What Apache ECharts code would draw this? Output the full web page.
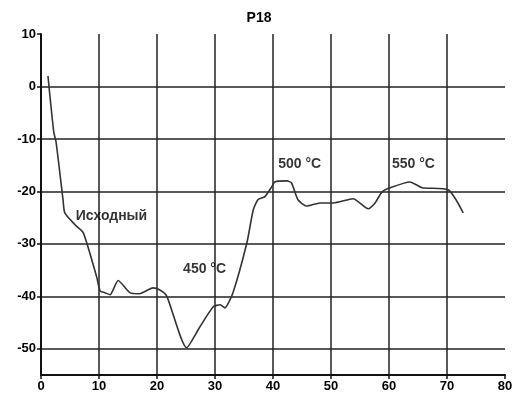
<!DOCTYPE html>
<html>
<head>
<meta charset="utf-8">
<script src="https://cdn.jsdelivr.net/npm/echarts@6/dist/echarts.min.js"></script>
<style>
  html, body { margin: 0; padding: 0; background: #fff; }
  #chart { width: 518px; height: 404px; }
</style>
</head>
<body>
<div id="chart"></div>
<script>
  // кривая P18, значения
  var xVals = [1.2, 2.2, 2.6, 3.8, 4.1, 5.9, 7.3, 9.6, 10.2, 11.0, 11.9, 13.3, 15.3, 17.0, 19.3, 20.5, 21.7,
               25.1, 27.4, 29.7, 30.9, 31.7, 33.1, 35.5, 36.6, 37.4, 38.6, 39.8, 40.3, 42.4, 43.2, 44.3,
               45.8, 48.1, 50.4, 53.8, 56.4, 57.6, 58.8, 60.2, 63.6, 65.7, 70.2, 72.8];
  var yVals = [2.0, -8.7, -10.6, -21.6, -24.1, -26.4, -27.9, -36.3, -39.0, -39.3, -39.7, -37.0, -39.3, -39.5, -38.4, -38.8, -40.0,
               -49.8, -45.8, -42.0, -41.6, -42.2, -39.3, -29.8, -23.5, -21.6, -21.0, -19.1, -18.2, -18.0, -18.4, -21.6,
               -22.8, -22.2, -22.2, -21.4, -23.3, -22.2, -20.1, -19.3, -18.2, -19.3, -19.7, -24.1];

  var yTicks = [-50, -40, -30, -20, -10, 0, 10];

  // подписи на графике
  var noteText = ['Исходный', '450 °C', '500 °C', '550 °C'];
  var noteX = [6.0, 24.5, 40.9, 60.5];
  var noteY = [-24.8, -34.8, -14.8, -14.8];

  var curve = [];
  for (var i = 0; i < xVals.length; i++) {
    curve.push([xVals[i], yVals[i]]);
  }
  var notes = [];
  for (var i = 0; i < noteText.length; i++) {
    notes.push({ value: [noteX[i], noteY[i]], name: noteText[i] });
  }

  var myChart = echarts.init(document.getElementById('chart'));
  var fontFam = '"Liberation Sans", Arial, sans-serif';

  var option = {
    animation: false,
    backgroundColor: '#fff',
    title: {
      text: 'P18',
      left: 'center',
      top: 6,
      textStyle: { fontFamily: fontFam, fontSize: 14, fontWeight: 'bold', color: '#000' }
    },
    grid: { left: 41, right: 13, top: 34, bottom: 29 },
    xAxis: {
      type: 'value',
      min: 0,
      max: 80,
      interval: 10,
      axisLine: { show: true, onZero: false, lineStyle: { color: '#111', width: 2 } },
      axisTick: { show: true, length: 4, lineStyle: { color: '#111', width: 1.5 } },
      axisLabel: { margin: 5, fontFamily: fontFam, fontSize: 13, fontWeight: 'bold', color: '#000' },
      splitLine: { show: true, showMaxLine: false, lineStyle: { color: '#222', width: 1.5 } }
    },
    yAxis: {
      type: 'value',
      min: -55,
      max: 10,
      axisLine: { show: true, onZero: false, lineStyle: { color: '#111', width: 2 } },
      axisTick: { show: true, length: 4, customValues: yTicks, lineStyle: { color: '#111', width: 1.5 } },
      axisLabel: { margin: 5, customValues: yTicks, fontFamily: fontFam, fontSize: 13, fontWeight: 'bold', color: '#000' },
      splitLine: { show: true, showMaxLine: false, lineStyle: { color: '#222', width: 1.5 } }
    },
    series: [
      {
        type: 'line',
        data: curve,
        smooth: 0.2,
        symbol: 'none',
        lineStyle: { color: '#333', width: 1.6 }
      },
      {
        type: 'scatter',
        data: notes,
        symbolSize: 0,
        itemStyle: { color: '#000' },
        label: {
          show: true,
          position: 'right',
          distance: 0,
          formatter: '{b}',
          fontFamily: fontFam,
          fontSize: 14,
          fontWeight: 'bold',
          color: '#000'
        }
      }
    ]
  };

  option && myChart.setOption(option);
</script>
</body>
</html>
